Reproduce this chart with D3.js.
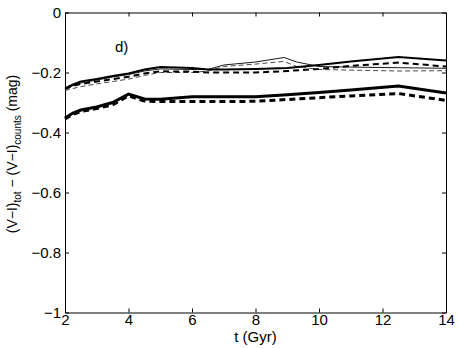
<!DOCTYPE html>
<html>
<head>
<meta charset="utf-8">
<script src="https://d3js.org/d3.v7.min.js"></script>
<style>
  body { margin: 0; background: #fff; }
  svg { display: block; font-family: "Liberation Sans", Arial, sans-serif; }
</style>
</head>
<body>
<div id="chart"></div>
<script>
// Data
const tThick = [2, 2.25, 2.5, 3, 3.5, 4, 4.5, 5, 6, 6.5, 7, 8, 9, 10, 11, 12.5, 14];
const lowSolid  = [-0.352, -0.335, -0.325, -0.315, -0.300, -0.272, -0.288, -0.289, -0.281, -0.281, -0.281, -0.281, -0.274, -0.267, -0.258, -0.245, -0.268];
const lowDashed = [-0.355, -0.340, -0.330, -0.320, -0.308, -0.278, -0.295, -0.297, -0.297, -0.297, -0.297, -0.296, -0.290, -0.284, -0.278, -0.270, -0.293];
const upSolid   = [-0.253, -0.240, -0.230, -0.222, -0.212, -0.203, -0.190, -0.182, -0.185, -0.190, -0.190, -0.188, -0.185, -0.175, -0.163, -0.148, -0.160];
const upDashed  = [-0.255, -0.245, -0.238, -0.230, -0.222, -0.214, -0.203, -0.196, -0.197, -0.200, -0.200, -0.200, -0.195, -0.188, -0.178, -0.167, -0.180];

const tThin = [2, 2.5, 3, 3.5, 4, 4.5, 5, 6, 6.5, 7, 8, 8.9, 9.3, 10, 11, 12.5, 14];
const thinSolid  = [-0.253, -0.235, -0.225, -0.215, -0.207, -0.195, -0.188, -0.190, -0.190, -0.175, -0.165, -0.150, -0.165, -0.180, -0.182, -0.184, -0.186];
const thinDashed = [-0.260, -0.247, -0.238, -0.230, -0.222, -0.210, -0.200, -0.200, -0.195, -0.180, -0.172, -0.163, -0.180, -0.190, -0.192, -0.195, -0.194];

const xTicks = [2, 4, 6, 8, 10, 12, 14];
const yTicks = [0, -0.2, -0.4, -0.6, -0.8, -1];

const W = 458, H = 349;
const mLeft = 65, mRight = 446, mTop = 12.5, mBottom = 312.5;

const svg = d3.select("#chart").append("svg")
  .attr("width", W).attr("height", H);

const x = d3.scaleLinear().domain([2, 14]).range([mLeft, mRight]);
const y = d3.scaleLinear().domain([-1, 0]).range([mBottom, mTop]);

const fmtY = d => d === 0 ? "0" : d === -1 ? "\u22121" : d3.format(".1f")(d).replace("-", "\u2212");

// axes, matlab style with inward ticks on all four sides
const gx = svg.append("g").attr("transform", `translate(0,${mBottom})`)
  .call(d3.axisBottom(x).tickValues(xTicks).tickSizeInner(-4).tickSizeOuter(0).tickPadding(2));
svg.append("g").attr("transform", `translate(0,${mTop})`)
  .call(d3.axisTop(x).tickValues(xTicks).tickSizeInner(-4).tickSizeOuter(0).tickFormat(""));
const gy = svg.append("g").attr("transform", `translate(${mLeft},0)`)
  .call(d3.axisLeft(y).tickValues(yTicks).tickFormat(fmtY).tickSizeInner(-4).tickSizeOuter(0).tickPadding(4));
svg.append("g").attr("transform", `translate(${mRight},0)`)
  .call(d3.axisRight(y).tickValues(yTicks).tickSizeInner(-4).tickSizeOuter(0).tickFormat(""));

svg.selectAll(".domain").attr("stroke", "#000");
svg.selectAll(".tick line").attr("stroke", "#000");
svg.selectAll(".tick text").attr("font-size", 15).attr("fill", "#000")
  .attr("font-family", "'Liberation Sans', Arial, sans-serif");
gx.selectAll(".tick text").attr("dy", "0.72em");
gy.selectAll(".tick text").attr("dy", "0.3em");

// series
const line = d3.line().x(d => x(d[0])).y(d => y(d[1]));
const series = [
  { t: tThin, v: thinDashed, w: 0.9, dash: "5,3", color: "#333" },
  { t: tThin, v: thinSolid, w: 0.9, dash: null, color: "#000" },
  { t: tThick, v: upDashed, w: 2, dash: "6,4", color: "#000" },
  { t: tThick, v: upSolid, w: 2, dash: null, color: "#000" },
  { t: tThick, v: lowDashed, w: 3, dash: "6,4", color: "#000" },
  { t: tThick, v: lowSolid, w: 3, dash: null, color: "#000" }
];
series.forEach(s => {
  svg.append("path")
    .datum(d3.zip(s.t, s.v))
    .attr("d", line)
    .attr("fill", "none")
    .attr("stroke", s.color)
    .attr("stroke-width", s.w)
    .attr("stroke-dasharray", s.dash);
});

// panel label
svg.append("text").attr("x", 115).attr("y", 52)
  .attr("font-size", 15).text("d)");

// axis labels
svg.append("text").attr("x", (mLeft + mRight) / 2).attr("y", 342)
  .attr("text-anchor", "middle").attr("font-size", 15).text("t (Gyr)");

const yl = svg.append("text")
  .attr("transform", "translate(17,154) rotate(-90)")
  .attr("text-anchor", "middle").attr("font-size", 14);
yl.append("tspan").text("(V\u2212I)");
yl.append("tspan").attr("font-size", 10).attr("dy", 4).text("tot");
yl.append("tspan").attr("dy", -4).text(" \u2212 (V\u2212I)");
yl.append("tspan").attr("font-size", 10).attr("dy", 4).text("counts");
yl.append("tspan").attr("dy", -4).text(" (mag)");
</script>
</body>
</html>
